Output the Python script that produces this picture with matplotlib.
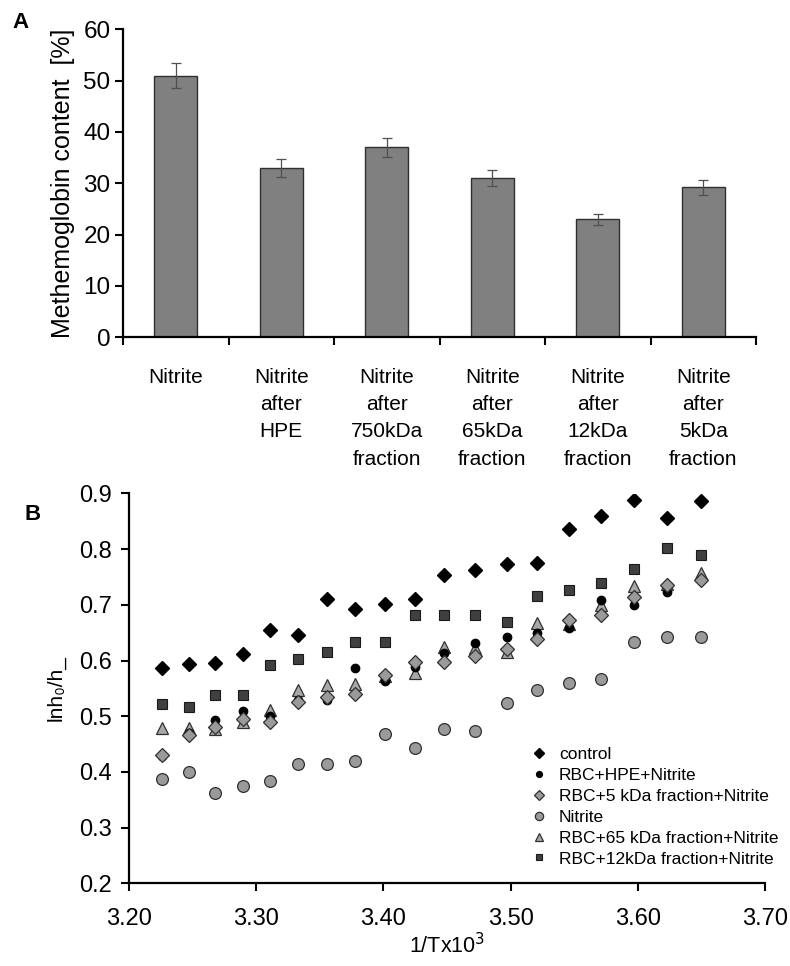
import matplotlib
matplotlib.use("Agg")
import matplotlib.pyplot as plt
from matplotlib.ticker import FormatStrFormatter, MultipleLocator

plt.rcParams['font.family'] = ['Liberation Sans', 'DejaVu Sans']

# ---------------- Panel A data ----------------
categories = ["Nitrite", "Nitrite\nafter\nHPE", "Nitrite\nafter\n750kDa\nfraction",
              "Nitrite\nafter\n65kDa\nfraction", "Nitrite\nafter\n12kDa\nfraction",
              "Nitrite\nafter\n5kDa\nfraction"]
methb = [51.0, 33.0, 37.0, 31.0, 23.0, 29.2]
methb_err = [2.5, 1.7, 1.9, 1.6, 1.1, 1.4]

# ---------------- Panel B data ----------------
inv_T = [3.226, 3.247, 3.268, 3.290, 3.311, 3.333, 3.356, 3.378, 3.401, 3.425,
         3.448, 3.472, 3.497, 3.521, 3.546, 3.571, 3.597, 3.623, 3.650]
control = [0.586, 0.594, 0.596, 0.612, 0.655, 0.646, 0.710, 0.692, 0.701, 0.710,
           0.753, 0.763, 0.774, 0.776, 0.836, 0.859, 0.889, 0.856, 0.887]
rbc_hpe = [0.428, 0.470, 0.494, 0.510, 0.501, 0.530, 0.530, 0.586, 0.564, 0.588,
           0.614, 0.632, 0.642, 0.649, 0.658, 0.709, 0.700, 0.724, 0.745]
rbc_5kda = [0.431, 0.467, 0.480, 0.495, 0.490, 0.525, 0.534, 0.540, 0.574, 0.597,
            0.598, 0.608, 0.621, 0.638, 0.672, 0.681, 0.714, 0.735, 0.744]
nitrite = [0.387, 0.399, 0.362, 0.374, 0.384, 0.414, 0.414, 0.420, 0.468, 0.443,
           0.477, 0.473, 0.524, 0.547, 0.559, 0.566, 0.634, 0.642, 0.642]
rbc_65kda = [0.479, 0.479, 0.477, 0.490, 0.511, 0.547, 0.556, 0.558, 0.572, 0.577,
             0.625, 0.622, 0.616, 0.667, 0.665, 0.699, 0.733, 0.738, 0.757]
rbc_12kda = [0.522, 0.516, 0.538, 0.538, 0.592, 0.603, 0.615, 0.634, 0.634, 0.682,
             0.682, 0.682, 0.670, 0.716, 0.727, 0.739, 0.765, 0.802, 0.790]

fig = plt.figure(figsize=(7.9, 9.66), dpi=100)

# ---------------- Panel A ----------------
axA = fig.add_axes([123/790, 1-337.3/966, (756-123)/790, (337.3-29.3)/966])
xpos = list(range(len(categories)))
axA.bar(xpos, methb, width=0.41, color='#808080', edgecolor='#303030', linewidth=1.0, zorder=2)
axA.errorbar(xpos, methb, yerr=methb_err, fmt='none', ecolor='#505050',
             elinewidth=0.9, capsize=3.5, capthick=0.9, zorder=3)
axA.set_xlim(-0.5, len(categories)-0.5)
axA.set_ylim(0, 60)
axA.yaxis.set_major_locator(MultipleLocator(10))
axA.set_xticks([i - 0.5 for i in range(len(categories)+1)])
axA.set_xticklabels([])
axA.set_xticks(xpos, minor=True)
axA.set_xticklabels(categories, minor=True, fontsize=15, linespacing=1.55)
axA.tick_params(axis='x', which='minor', length=0, pad=22)
axA.tick_params(axis='x', which='major', length=6, width=1.5, direction='out')
axA.tick_params(axis='y', length=6, width=1.5, direction='out', labelsize=17.5, pad=3)
for s in ['top', 'right']:
    axA.spines[s].set_visible(False)
for s in ['left', 'bottom']:
    axA.spines[s].set_linewidth(1.6)
axA.set_ylabel("Methemoglobin content  [%]", fontsize=18, labelpad=6)
fig.text(12/790, 1-22/966, "A", fontsize=16, fontweight='bold', va='center', ha='left')

# ---------------- Panel B ----------------
axB = fig.add_axes([129/790, 1-883.3/966, (765-129)/790, (883.3-493.5)/966])
ec = '#303030'
axB.plot(inv_T, control, linestyle='none', marker='D', markersize=7.5,
         color='black', markeredgecolor='black', label='control', zorder=3)
axB.plot(inv_T, rbc_12kda, linestyle='none', marker='s', markersize=7,
         color='#404040', markeredgecolor='#1a1a1a', markeredgewidth=0.8,
         label='RBC+12kDa fraction+Nitrite', zorder=3)
axB.plot(inv_T, nitrite, linestyle='none', marker='o', markersize=8.5,
         color='#9a9a9a', markeredgecolor=ec, markeredgewidth=0.9,
         label='Nitrite', zorder=3)
axB.plot(inv_T, rbc_65kda, linestyle='none', marker='^', markersize=8.5,
         color='#a8a8a8', markeredgecolor=ec, markeredgewidth=0.9,
         label='RBC+65 kDa fraction+Nitrite', zorder=4)
axB.plot(inv_T, rbc_hpe, linestyle='none', marker='o', markersize=6,
         color='black', markeredgecolor='black',
         label='RBC+HPE+Nitrite', zorder=5)
axB.plot(inv_T, rbc_5kda, linestyle='none', marker='D', markersize=7,
         color='#9a9a9a', markeredgecolor=ec, markeredgewidth=0.9,
         label='RBC+5 kDa fraction+Nitrite', zorder=6)

axB.set_xlim(3.2, 3.7)
axB.set_ylim(0.2, 0.9)
axB.xaxis.set_major_locator(MultipleLocator(0.1))
axB.yaxis.set_major_locator(MultipleLocator(0.1))
axB.xaxis.set_major_formatter(FormatStrFormatter('%.2f'))
axB.yaxis.set_major_formatter(FormatStrFormatter('%.1f'))
axB.tick_params(axis='both', length=6, width=1.5, direction='out', labelsize=17)
axB.tick_params(axis='x', pad=12)
axB.tick_params(axis='y', pad=6)
for s in ['top', 'right']:
    axB.spines[s].set_visible(False)
for s in ['left', 'bottom']:
    axB.spines[s].set_linewidth(1.6)
axB.set_xlabel("1/Tx10$^3$", fontsize=15.5, labelpad=2)
axB.set_ylabel("lnh\u2080/h_", fontsize=15, labelpad=10)
fig.text(25/790, 1-515/966, "B", fontsize=16, fontweight='bold', va='center', ha='left')

handles, labels = axB.get_legend_handles_labels()
order = ['control', 'RBC+HPE+Nitrite', 'RBC+5 kDa fraction+Nitrite', 'Nitrite',
         'RBC+65 kDa fraction+Nitrite', 'RBC+12kDa fraction+Nitrite']
hmap = dict(zip(labels, handles))
leg = axB.legend([hmap[k] for k in order], order, loc='upper left',
                 bbox_to_anchor=(532/790, 1-747/966), bbox_transform=fig.transFigure,
                 frameon=False, fontsize=12.5, markerscale=0.7, handlelength=0.8,
                 handletextpad=0.75, labelspacing=0.33, borderaxespad=0, borderpad=0)

fig.savefig("out.png", dpi=100)
